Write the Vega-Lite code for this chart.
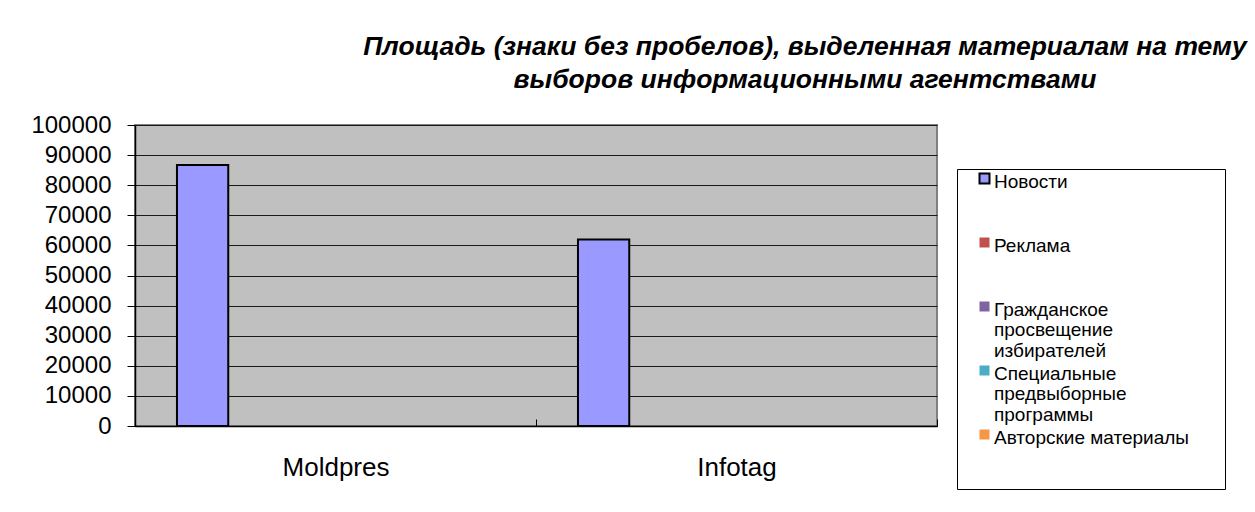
{
  "$schema": "https://vega.github.io/schema/vega-lite/v6.json",
  "width": 802,
  "height": 301,
  "autosize": {"type": "none"},
  "padding": {"left": 135, "top": 125, "right": 318, "bottom": 86},
  "background": "white",
  "title": {
    "text": ["Площадь  (знаки без пробелов), выделенная материалам на тему", "выборов информационными агентствами"],
    "font": "Liberation Sans",
    "fontSize": 26.5,
    "fontStyle": "italic",
    "fontWeight": "bold",
    "anchor": "middle",
    "dx": 269,
    "offset": 20,
    "lineHeight": 33,
    "color": "black"
  },
  "data": {
    "values": [
      {"agency": "Moldpres", "series": "Новости", "value": 86700},
      {"agency": "Moldpres", "series": "Реклама", "value": 0},
      {"agency": "Moldpres", "series": "Гражданское просвещение избирателей", "value": 0},
      {"agency": "Moldpres", "series": "Специальные предвыборные программы", "value": 0},
      {"agency": "Moldpres", "series": "Авторские материалы", "value": 0},
      {"agency": "Infotag", "series": "Новости", "value": 62000},
      {"agency": "Infotag", "series": "Реклама", "value": 0},
      {"agency": "Infotag", "series": "Гражданское просвещение избирателей", "value": 0},
      {"agency": "Infotag", "series": "Специальные предвыборные программы", "value": 0},
      {"agency": "Infotag", "series": "Авторские материалы", "value": 0}
    ]
  },
  "mark": {"type": "bar", "strokeWidth": 2},
  "encoding": {
    "x": {
      "field": "agency",
      "type": "nominal",
      "sort": ["Moldpres", "Infotag"],
      "scale": {"paddingInner": 0, "paddingOuter": 0},
      "axis": {
        "title": null,
        "labelAngle": 0,
        "labelFont": "Liberation Sans",
        "labelFontSize": 26,
        "labelColor": "black",
        "tickBand": "extent",
        "tickSize": -7,
        "tickColor": "black",
        "labelPadding": 41,
        "domainColor": "black",
        "domainWidth": 1.5,
        "grid": false
      }
    },
    "xOffset": {
      "field": "series",
      "type": "nominal",
      "sort": ["Новости", "Реклама", "Гражданское просвещение избирателей", "Специальные предвыборные программы", "Авторские материалы"],
      "scale": {"paddingInner": 0.12, "paddingOuter": 1, "align": 0.36}
    },
    "y": {
      "field": "value",
      "type": "quantitative",
      "scale": {"domain": [0, 100000], "nice": false},
      "axis": {
        "title": null,
        "values": [0, 10000, 20000, 30000, 40000, 50000, 60000, 70000, 80000, 90000, 100000],
        "format": "d",
        "labelFont": "Liberation Sans",
        "labelFontSize": 24,
        "labelColor": "black",
        "labelPadding": 16,
        "labelOffset": 6,
        "tickSize": 8,
        "tickColor": "black",
        "domainColor": "black",
        "domainWidth": 1.5,
        "grid": true,
        "gridColor": "#1a1a1a",
        "gridWidth": 1
      }
    },
    "fill": {
      "field": "series",
      "type": "nominal",
      "sort": ["Новости", "Реклама", "Гражданское просвещение избирателей", "Специальные предвыборные программы", "Авторские материалы"],
      "scale": {
        "domain": ["Новости", "Реклама", "Гражданское просвещение избирателей", "Специальные предвыборные программы", "Авторские материалы"],
        "range": ["#9999FF", "#C0504D", "#8064A2", "#4BACC6", "#F79646"]
      },
      "legend": {
        "orient": "none",
        "legendX": 822,
        "legendY": 44,
        "title": null,
        "labelFont": "Liberation Sans",
        "labelFontSize": 19,
        "labelColor": "black",
        "labelLimit": 400,
        "symbolType": "square",
        "symbolSize": 100,
        "symbolStrokeWidth": 2,
        "symbolOffset": 18,
        "labelOffset": 0,
        "padding": 0,
        "strokeColor": "black",
        "fillColor": "white",
        "rowPadding": 0,
        "labelBaseline": "top",
        "labelExpr": "datum.label === 'Гражданское просвещение избирателей' ? ['Гражданское', 'просвещение', 'избирателей'] : datum.label === 'Специальные предвыборные программы' ? ['Специальные', 'предвыборные', 'программы'] : datum.label === 'Авторские материалы' ? ['Авторские материалы\u00a0\u00a0\u00a0\u00a0\u2800', '', ''] : [datum.label, '', '']"
      }
    },
    "stroke": {
      "field": "series",
      "type": "nominal",
      "sort": ["Новости", "Реклама", "Гражданское просвещение избирателей", "Специальные предвыборные программы", "Авторские материалы"],
      "scale": {
        "domain": ["Новости", "Реклама", "Гражданское просвещение избирателей", "Специальные предвыборные программы", "Авторские материалы"],
        "range": ["#000000", "transparent", "transparent", "transparent", "transparent"]
      }
    }
  },
  "config": {
    "view": {"fill": "#C0C0C0", "stroke": "#808080", "strokeWidth": 2},
    "style": {"guide-label": {"lineHeight": 20.7, "dy": -6}}
  }
}
